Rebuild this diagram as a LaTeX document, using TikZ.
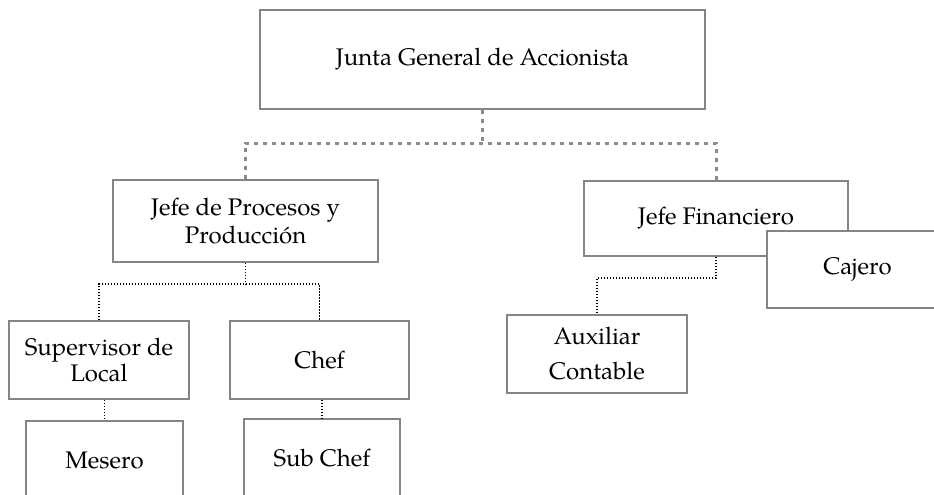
\documentclass[tikz,border=0pt]{standalone}
\usepackage{fontspec}
\setmainfont{TeX Gyre Pagella}
\begin{document}
\begin{tikzpicture}[x=1pt,y=-1pt,
  box/.style={draw=boxgray, line width=1.5pt, fill=white, inner sep=0pt, align=center,
    font=\fontsize{24}{28}\selectfont},
  thickdot/.style={draw=dotgray, line width=3pt, dash pattern=on 4pt off 5pt},
  thindot/.style={draw=black, line width=1.6pt, dash pattern=on 1.6pt off 1.4pt}
]
\definecolor{boxgray}{HTML}{858585}
\definecolor{dotgray}{HTML}{8C8C8C}
\useasboundingbox (0,0) rectangle (934,495);
\clip (0,0) rectangle (934,495);

\node[box, minimum width=445pt, minimum height=99pt] (junta) at (482.5,59.5) {Junta General de Accionista};
\node[box, minimum width=265pt, minimum height=82pt] (jpp) at (245.5,221) {Jefe de Procesos y\\Producción};
\node[box, minimum width=264pt, minimum height=75pt] (jf) at (716,218.5) {Jefe Financiero};
\node[box, minimum width=180pt, minimum height=78pt] (aux) at (597,354) {Auxiliar\\[7pt]Contable};
\node[box, minimum width=180pt, minimum height=78pt] (sup) at (99,360) {Supervisor de\\[-2pt]Local};
\node[box, minimum width=179pt, minimum height=78pt] (chef) at (319.5,360) {Chef};
\node[box, minimum width=157pt, minimum height=78pt] (mesero) at (104.5,460) {Mesero};
\node[box, minimum width=156pt, minimum height=78pt] (subchef) at (322,458) {Sub Chef};

\coordinate (h1) at (0,143);
\coordinate (h2) at (0,284);
\coordinate (h3) at (0,278);

\draw[thickdot] (junta.south) -- (junta.south |- h1);
\draw[thickdot] (jpp.north) -- (jpp.north |- h1) -- (jf.north |- h1) -- (jf.north);

\draw[thindot] (jpp.south) -- (jpp.south |- h2);
\draw[thindot] (sup.north) -- (sup.north |- h2) -- (chef.north |- h2) -- (chef.north);
\draw[thindot] (mesero.north |- sup.south) -- (mesero.north);
\draw[thindot] (subchef.north |- chef.south) -- (subchef.north);
\draw[thindot] (jf.south) -- (jf.south |- h3) -- (aux.north |- h3) -- (aux.north);

\node[box, minimum width=181pt, minimum height=77pt] (cajero) at (857.5,269.5) {Cajero};
\end{tikzpicture}
\end{document}
